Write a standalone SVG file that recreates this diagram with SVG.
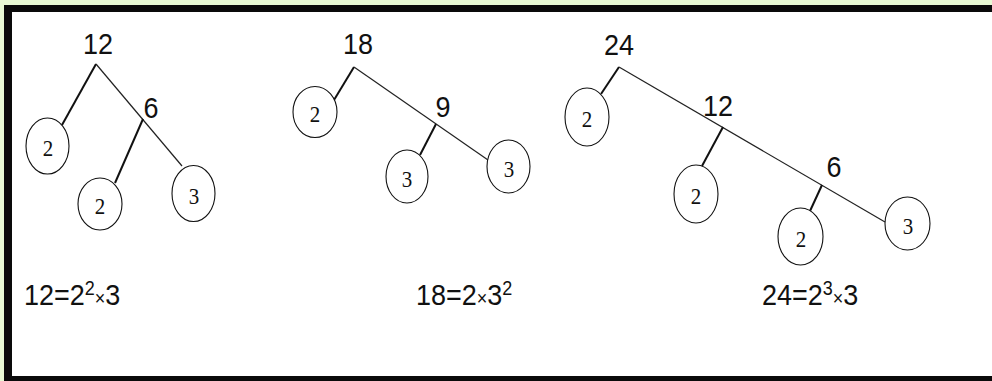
<svg xmlns="http://www.w3.org/2000/svg" width="992" height="381" viewBox="0 0 992 381">
<style>
.num{font-family:"Liberation Sans",Arial,sans-serif;font-size:27px;fill:#111;text-anchor:middle}
.frm{font-family:"Liberation Sans",Arial,sans-serif;font-size:27px;fill:#111}
.sm{font-size:18px}
.leaf ellipse{fill:#fff;stroke:#111;stroke-width:1.1}
.leaf text{font-family:"Liberation Serif","Times New Roman",serif;font-size:21px;fill:#111;text-anchor:middle}
.thick{stroke:#111;stroke-width:2;fill:none}
.thin{stroke:#222;stroke-width:1.2;fill:none}
</style>
<rect x="0" y="0" width="992" height="381" fill="#e8f9d4"/>
<rect x="4" y="5" width="988" height="376" fill="#0a0a0a"/>
<rect x="12" y="12" width="980" height="364" fill="#fff"/>

<g id="connectors">
  <line class="thick" x1="96" y1="64" x2="62" y2="125"/>
  <line class="thin" x1="96" y1="64" x2="182" y2="166"/>
  <line class="thick" x1="143" y1="119" x2="115" y2="183"/>

  <line class="thick" x1="354" y1="67" x2="334" y2="100"/>
  <line class="thin" x1="354" y1="67" x2="488" y2="160"/>
  <line class="thick" x1="436" y1="124" x2="420" y2="155"/>

  <line class="thick" x1="619" y1="67" x2="601" y2="94"/>
  <line class="thin" x1="619" y1="67" x2="885" y2="222"/>
  <line class="thick" x1="723" y1="127" x2="702" y2="166"/>
  <line class="thick" x1="822" y1="185" x2="810" y2="211"/>
</g>

<g id="t1-12"><text class="num" transform="translate(98,54) scale(1,1.1)">12</text></g>
<g id="t1-6"><text class="num" transform="translate(151,118) scale(1,1.1)">6</text></g>
<g id="t1-c2a" class="leaf"><ellipse cx="47.5" cy="146" rx="21.5" ry="28"/><text transform="translate(48,156) scale(1,1.1)">2</text></g>
<g id="t1-c2b" class="leaf"><ellipse cx="100" cy="204" rx="22" ry="26"/><text transform="translate(100,214) scale(1,1.1)">2</text></g>
<g id="t1-c3" class="leaf"><ellipse cx="193.5" cy="193.5" rx="21.5" ry="28"/><text transform="translate(194,204) scale(1,1.1)">3</text></g>

<g id="t2-18"><text class="num" transform="translate(358,54) scale(1,1.1)">18</text></g>
<g id="t2-9"><text class="num" transform="translate(443,117) scale(1,1.1)">9</text></g>
<g id="t2-c2" class="leaf"><ellipse cx="315" cy="112" rx="22" ry="25.5"/><text transform="translate(315,122) scale(1,1.1)">2</text></g>
<g id="t2-c3a" class="leaf"><ellipse cx="407" cy="176.5" rx="21" ry="26.5"/><text transform="translate(407,187) scale(1,1.1)">3</text></g>
<g id="t2-c3b" class="leaf"><ellipse cx="508.5" cy="166.5" rx="21.5" ry="26.5"/><text transform="translate(509,177) scale(1,1.1)">3</text></g>

<g id="t3-24"><text class="num" transform="translate(619,55) scale(1,1.1)">24</text></g>
<g id="t3-12"><text class="num" transform="translate(718,116) scale(1,1.1)">12</text></g>
<g id="t3-6"><text class="num" transform="translate(834,177) scale(1,1.1)">6</text></g>
<g id="t3-c2a" class="leaf"><ellipse cx="587" cy="117" rx="22" ry="29"/><text transform="translate(587,127) scale(1,1.1)">2</text></g>
<g id="t3-c2b" class="leaf"><ellipse cx="696" cy="194" rx="22" ry="29"/><text transform="translate(696,204) scale(1,1.1)">2</text></g>
<g id="t3-c2c" class="leaf"><ellipse cx="800.5" cy="236.5" rx="22.5" ry="28.5"/><text transform="translate(801,247) scale(1,1.1)">2</text></g>
<g id="t3-c3" class="leaf"><ellipse cx="907.5" cy="223.5" rx="22.5" ry="26.5"/><text transform="translate(908,234) scale(1,1.1)">3</text></g>

<g id="formulas">
  <text class="frm" transform="translate(24,305) scale(1,1.1)">12=2<tspan class="sm" dy="-9">2</tspan><tspan class="sm" dy="9">×</tspan>3</text>
  <text class="frm" transform="translate(416,305) scale(1,1.1)">18=2<tspan class="sm">×</tspan>3<tspan class="sm" dy="-9">2</tspan></text>
  <text class="frm" transform="translate(762,305) scale(1,1.1)">24=2<tspan class="sm" dy="-9">3</tspan><tspan class="sm" dy="9">×</tspan>3</text>
</g>
</svg>
